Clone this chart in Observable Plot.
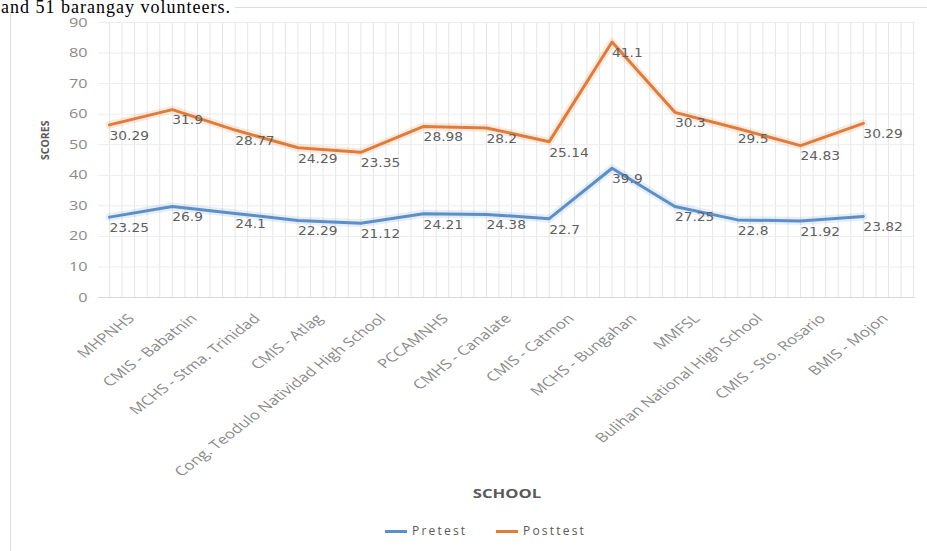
<!DOCTYPE html>
<html>
<head>
<meta charset="utf-8">
<script src="https://cdn.jsdelivr.net/npm/d3@7"></script>
<script src="https://cdn.jsdelivr.net/npm/@observablehq/plot@0.6"></script>
<style>
  body { margin: 0; background: #fff; }
  #wrap { position: relative; width: 927px; height: 551px; overflow: hidden; background: #fff; }
  #chart { position: absolute; left: 0; top: 0; }
  #border { position: absolute; left: 10px; top: 7px; width: 940px; height: 600px; border: 1px solid #dcdcdc; }
  #cap { position: absolute; left: 1px; top: 0px; padding-right: 4px; background: #fff;
         font-family: "Liberation Serif", serif; font-size: 18px; line-height: 14px; color: #000; letter-spacing: 1px; white-space: nowrap; }
  .leg { position: absolute; font-family: "Open Sans", sans-serif; font-size: 12px; color: #595959; letter-spacing: 2.2px; line-height: 14px; }
  .sw { position: absolute; height: 3px; }
</style>
</head>
<body>
<div id="wrap">
  <div id="chart"></div>
  <div id="border"></div>
  <div id="cap">and 51 barangay volunteers.</div>
  <div class="sw" style="left:385px;top:530px;width:22px;background:#5b8fc7"></div>
  <div class="leg" style="left:412px;top:524px;">Pretest</div>
  <div class="sw" style="left:496px;top:530px;width:22px;background:#e07b39"></div>
  <div class="leg" style="left:523px;top:524px;">Posttest</div>
</div>
<script>
const schools = ["MHPNHS", "CMIS - Babatnin", "MCHS - Stma. Trinidad", "CMIS - Atlag",
  "Cong. Teodulo Natividad High School", "PCCAMNHS", "CMHS - Canalate", "CMIS - Catmon",
  "MCHS - Bungahan", "MMFSL", "Bulihan National High School", "CMIS - Sto. Rosario", "BMIS - Mojon"];
const pretest = [26.3, 29.8, 27.5, 25.2, 24.3, 27.4, 27.2, 25.8, 42.3, 29.8, 25.4, 25.0, 26.5];
const posttest = [56.5, 61.5, 54.8, 49.0, 47.5, 56.0, 55.5, 51.0, 83.6, 60.6, 55.3, 49.7, 57.0];
const pretestLabels = ["23.25", "26.9", "24.1", "22.29", "21.12", "24.21", "24.38", "22.7", "39.9", "27.25", "22.8", "21.92", "23.82"];
const posttestLabels = ["30.29", "31.9", "28.77", "24.29", "23.35", "28.98", "28.2", "25.14", "41.1", "30.3", "29.5", "24.83", "30.29"];
const yTicks = [0, 10, 20, 30, 40, 50, 60, 70, 80, 90];

const rows = schools.map((s, i) => ({
  school: s, idx: i, pre: pretest[i], post: posttest[i],
  preLabel: pretestLabels[i], postLabel: posttestLabels[i]
}));
const minorX = d3.range(0, 65).map(k => k * 0.2);
const blue = "#5b8fc7", orange = "#e07b39";

const chart = Plot.plot({
  width: 927,
  height: 551,
  marginTop: 22,
  marginBottom: 254,
  marginLeft: 98,
  marginRight: 12,
  style: { fontFamily: "Open Sans, sans-serif", fontSize: "12px", color: "#808080", background: "transparent" },
  x: { domain: [-0.175, 12.83], axis: null },
  y: { domain: [0, 90], axis: null },
  marks: [
    Plot.ruleX(minorX, { stroke: "#e6e6e6", strokeWidth: 1 }),
    Plot.ruleY(yTicks.filter(t => t > 0), { stroke: "#ececec", strokeWidth: 1 }),
    Plot.ruleY([0], { stroke: "#d9d9d9", strokeWidth: 1 }),
    Plot.axisY({ ticks: yTicks, tickSize: 0, tickPadding: 11, fontSize: 12.5, fill: "#8a8a8a" }),
    Plot.lineY(rows, { x: "idx", y: "pre", stroke: blue, strokeWidth: 8, strokeOpacity: 0.15 }),
    Plot.lineY(rows, { x: "idx", y: "post", stroke: orange, strokeWidth: 8, strokeOpacity: 0.15 }),
    Plot.lineY(rows, { x: "idx", y: "pre", stroke: blue, strokeWidth: 3 }),
    Plot.lineY(rows, { x: "idx", y: "post", stroke: orange, strokeWidth: 3 }),
    Plot.text(rows, { x: "idx", y: "pre", text: "preLabel", textAnchor: "start", dy: 11,
      fontFamily: "DejaVu Sans", fontSize: 12, fill: "#5f5f5f" }),
    Plot.text(rows, { x: "idx", y: "post", text: "postLabel", textAnchor: "start", dy: 11,
      fontFamily: "DejaVu Sans", fontSize: 12, fill: "#5f5f5f" }),
    Plot.text(rows, { x: "idx", y: () => 0, text: "school", textAnchor: "end", rotate: -45,
      dx: 22, dy: 19, fontSize: 13, fill: "#8a8a8a" }),
    Plot.text([0], { frameAnchor: "left", text: () => "SCORES", rotate: -90, dx: -53,
      fontSize: 10.5, fontWeight: "bold", fill: "#595959" }),
    Plot.text([0], { frameAnchor: "bottom", text: () => "SCHOOL", dy: 200,
      fontSize: 11.5, fontWeight: "bold", fill: "#595959" })
  ]
});
document.getElementById("chart").appendChild(chart);

// The reference picture is stretched horizontally; mimic by scaling texts along x.
function numAttr(el, name) {
  const v = el.getAttribute(name);
  if (v == null || /[a-z%]/i.test(v)) return 0;   // keep em-based offsets untouched
  el.removeAttribute(name);
  return parseFloat(v) || 0;
}
function stretchText(el, sx) {
  let a = 1, b = 0, c = 0, d = 1, e = 0, f = 0;
  const list = el.transform.baseVal;
  if (list.numberOfItems) {
    const m = list.consolidate().matrix;
    a = m.a; b = m.b; c = m.c; d = m.d; e = m.e; f = m.f;
  }
  const x = numAttr(el, "x"), y = numAttr(el, "y");
  const px = a * x + c * y + e, py = b * x + d * y + f;
  el.setAttribute("transform", `translate(${px},${py}) scale(${sx},1) matrix(${a},${b},${c},${d},0,0)`);
}
const schoolSet = new Set(schools);
const labelSet = new Set([...pretestLabels, ...posttestLabels]);
const tickSet = new Set(yTicks.map(String));
chart.querySelectorAll("text").forEach(el => {
  const t = el.textContent;
  if (schoolSet.has(t)) stretchText(el, 1.3);
  else if (labelSet.has(t)) stretchText(el, 1.15);
  else if (tickSet.has(t)) stretchText(el, 1.3);
  else if (t === "SCHOOL") stretchText(el, 1.45);
});
</script>
</body>
</html>
